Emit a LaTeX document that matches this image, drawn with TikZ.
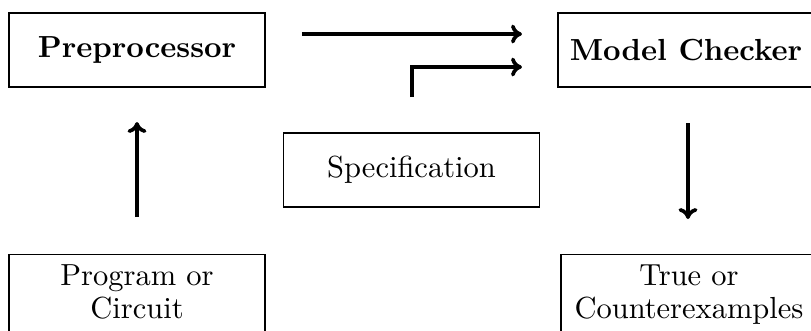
\documentclass[tikz,border=0pt]{standalone}
\usetikzlibrary{arrows.meta}
\begin{document}
\begin{tikzpicture}[x=0.328pt, y=-0.328pt,
  box/.style={draw, rectangle, minimum width=84pt, minimum height=24.3pt, inner sep=0pt, align=center},
  tallbox/.style={draw, rectangle, minimum width=84pt, inner sep=3.3pt, align=center, anchor=north, font=\fontsize{10}{10.9}\selectfont},
  arr/.style={line width=1.2pt, -{To[length=3.6pt,width=6.2pt]}}]
\useasboundingbox (0,0) rectangle (811,330);
\node[box] (pre) at (137,50) {\textbf{Preprocessor}};
\node[box] (mc) at (686,50) {\textbf{Model Checker}};
\node[box] (spec) at (411.5,170) {Specification};
\node[tallbox] (prog) at (137,254) {Program or\\Circuit\rule[-12pt]{0pt}{0pt}};
\node[tallbox] (tc) at (689,254) {True or\\Counterexamples\rule[-12pt]{0pt}{0pt}};
\coordinate (a1s) at (302,34);
\coordinate (a1e) at (522,34);
\coordinate (a2s) at (412,97);
\coordinate (a2e) at (522,67);
\coordinate (a3s) at (137,217);
\coordinate (a3e) at (137,122);
\coordinate (a4s) at (688,123);
\coordinate (a4e) at (688,219);
\draw[arr] (a1s) -- (a1e);
\draw[arr] (a2s) |- (a2e);
\draw[arr] (a3s) -- (a3e);
\draw[arr] (a4s) -- (a4e);
\end{tikzpicture}
\end{document}
